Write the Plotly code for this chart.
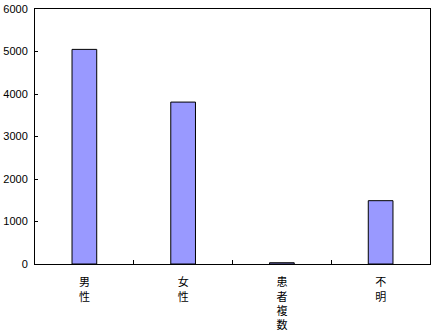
import plotly.graph_objects as go

categories = ["男<br>性", "女<br>性", "患<br>者<br>複<br>数", "不<br>明"]
values = [5050, 3810, 30, 1490]
y_ticks = [0, 1000, 2000, 3000, 4000, 5000, 6000]

fig = go.Figure(go.Bar(
    x=categories, y=values,
    marker=dict(color="#9999FF", line=dict(color="black", width=1)),
))
fig.update_layout(
    width=434, height=334,
    margin=dict(l=35, r=3, t=6, b=70),
    paper_bgcolor="white", plot_bgcolor="white",
    bargap=0.75, showlegend=False,
    font=dict(family="Liberation Sans, Arial", size=11, color="black"),
)
fig.update_xaxes(
    type="category", showline=True, linecolor="black", linewidth=1, mirror=True,
    ticks="inside", ticklen=4, tickcolor="black", tickson="boundaries",
    showgrid=False, ticklabelstandoff=8,
    tickfont=dict(family="Liberation Sans, Noto Sans CJK JP", size=11, color="black"),
)
fig.update_yaxes(
    range=[0, 6000], tickvals=y_ticks, showline=True, linecolor="black", linewidth=1,
    mirror=True, ticks="inside", ticklen=3, tickcolor="black", showgrid=False,
    zeroline=False, ticklabelstandoff=4, ticklabeloverflow="allow",
)
fig.write_html("out.html")
